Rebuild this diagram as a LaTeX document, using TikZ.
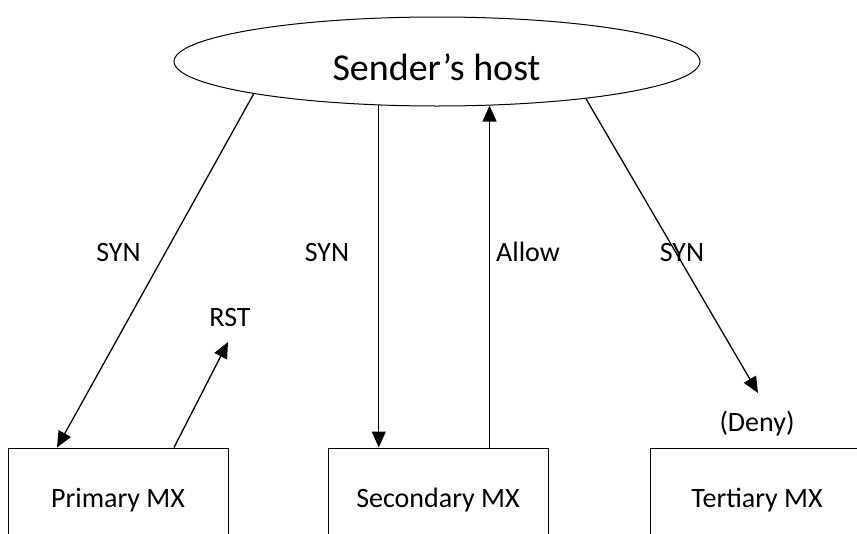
\documentclass[tikz,border=0pt]{standalone}
\usepackage{fontspec}
\setmainfont{Carlito}
\usetikzlibrary{shapes.geometric,arrows.meta}

\tikzset{
  hostshape/.style={draw, ellipse, line width=1pt, minimum width=526pt, minimum height=89pt, inner sep=0pt},
  mxbox/.style={draw, rectangle, line width=1pt, minimum width=220pt, minimum height=100pt, inner sep=0pt},
  lbl/.style={anchor=base, inner sep=0pt, font=\fontsize{28}{30}\selectfont},
  arr/.style={line width=1.3pt, -{Triangle[length=16pt,width=14pt]}}
}

\begin{document}
\begin{tikzpicture}[x=1pt,y=-1pt]
  \useasboundingbox (0,0) rectangle (857,533);
  \clip (0,0) rectangle (857,533);

  % sender and the three mail exchangers
  \node[hostshape] (host) at (437,61.5) {};
  \node[anchor=base, inner sep=0pt, font=\fontsize{38}{40}\selectfont] (hostname) at (436.5,80.7) {Sender’s host};

  \node[mxbox] (primary)   at (118,498) {};
  \node[mxbox] (secondary) at (438,498) {};
  \node[mxbox] (tertiary)  at (760,498) {};
  \node[lbl] (primaryname)   at (118,507) {Primary MX};
  \node[lbl] (secondaryname) at (438,507) {Secondary MX};
  \node[lbl] (tertiaryname)  at (757,507) {Tertiary MX};

  % free ends of the open arrows
  \coordinate (rsttip) at (228,342);
  \coordinate (syntip) at (758,393);

  % connections
  \draw[arr] (host.190.5) -- ([xshift=-61pt]primary.north);
  \draw[arr] ([xshift=56pt]primary.north) -- (rsttip);
  \draw[arr] (host.217.8) -- (host.217.8 |- secondary.north);
  \draw[arr] (secondary.north -| host.-40.9) -- (host.-40.9);
  \draw[arr] (host.-14.4) -- (syntip);

  % labels
  \node[lbl] (syn1)  at (118.5,261.5) {SYN};
  \node[lbl] (syn2)  at (327,261.5) {SYN};
  \node[lbl] (allow) at (528,261.5) {Allow};
  \node[lbl] (syn3)  at (682,261.5) {SYN};
  \node[lbl] (rst)   at (230,326.7) {RST};
  \node[lbl] (deny)  at (757,431) {(Deny)};
\end{tikzpicture}
\end{document}
